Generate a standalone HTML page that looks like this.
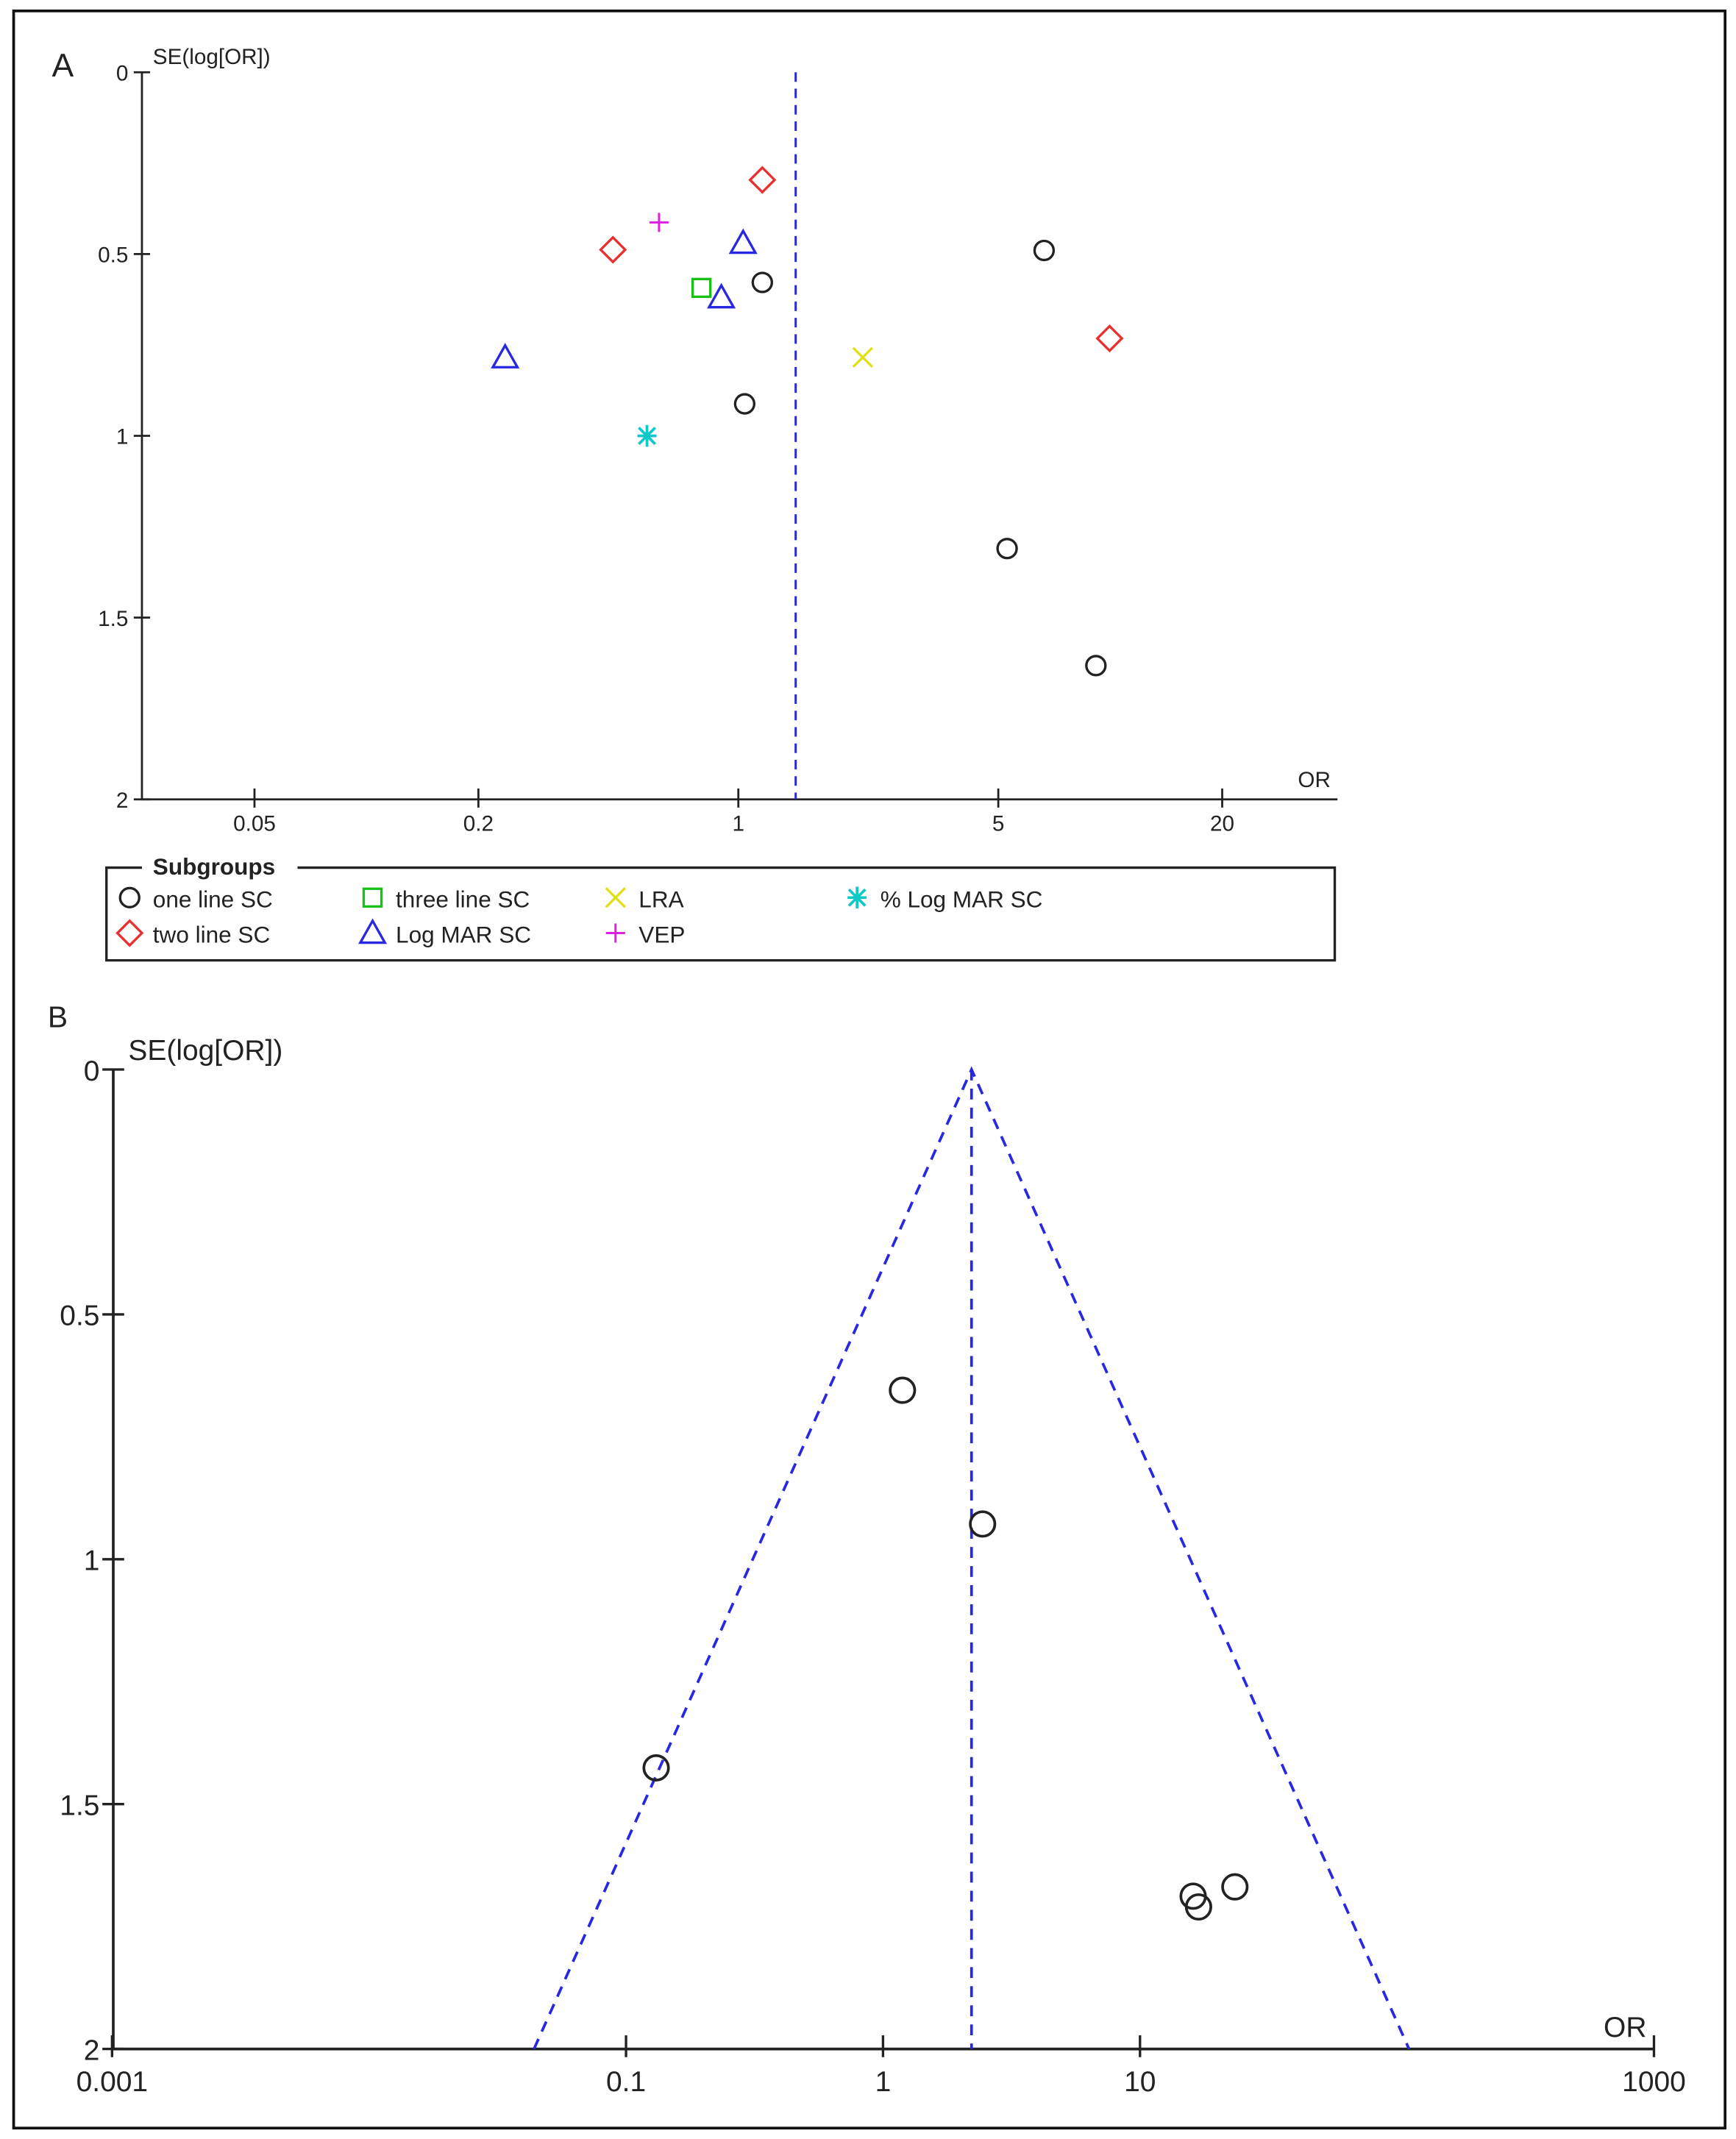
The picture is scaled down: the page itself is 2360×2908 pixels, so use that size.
<!DOCTYPE html>
<html><head><meta charset="utf-8">
<style>
html,body{margin:0;padding:0;background:#fff;}
svg{display:block;}
text{font-family:"Liberation Sans",sans-serif;fill:#222;}
</style></head>
<body>
<svg id="fig" width="2360" height="2908" viewBox="0 0 1272 1568" preserveAspectRatio="none" xmlns="http://www.w3.org/2000/svg">
<rect x="10" y="8" width="1254" height="1552" fill="#fff" stroke="#111" stroke-width="2"/>
<text x="38" y="56" font-size="24">A</text>
<text x="35" y="753" font-size="22">B</text>
<g id="gA"></g>
<g id="gB"></g>
<g id="legend"></g>
</svg>
<script>
// Panel A data (OR, SE) by subgroup
const aOneLineOR = [6.64, 1.16, 1.04, 5.28, 9.15];
const aOneLineSE = [0.49, 0.578, 0.912, 1.31, 1.632];
const aTwoLineOR = [1.16, 0.46, 9.96];
const aTwoLineSE = [0.296, 0.488, 0.732];
const aThreeLineOR = [0.796];
const aThreeLineSE = [0.593];
const aLogMarOR = [1.03, 0.90, 0.236];
const aLogMarSE = [0.47, 0.62, 0.785];
const aLraOR = [2.16];
const aLraSE = [0.784];
const aVepOR = [0.612];
const aVepSE = [0.413];
const aPctLogMarOR = [0.568];
const aPctLogMarSE = [1.0];
const aPooledOR = 1.426;
const aXTicks = [0.05, 0.2, 1, 5, 20];
const aXTickLabels = ["0.05", "0.2", "1", "5", "20"];
const aYTicks = [0, 0.5, 1, 1.5, 2];
const aYTickLabels = ["0", "0.5", "1", "1.5", "2"];
// Panel B data
const bOR = [1.19, 2.44, 0.131, 16.1, 16.9, 23.4];
const bSE = [0.655, 0.928, 1.426, 1.688, 1.71, 1.669];
const bPooledOR = 2.21;
const bXTicks = [0.001, 0.1, 1, 10, 1000];
const bXTickLabels = ["0.001", "0.1", "1", "10", "1000"];
const bYTicks = [0, 0.5, 1, 1.5, 2];
const bYTickLabels = ["0", "0.5", "1", "1.5", "2"];

const NS = "http://www.w3.org/2000/svg";
function mk(tag, attrs, parent){const e=document.createElementNS(NS,tag);for(const k in attrs)e.setAttribute(k,attrs[k]);parent.appendChild(e);return e;}

// axis functions
const axA = {x0:104, x1:980, y0:53, y1:586};
const xA = v => 541 + 272.5*Math.log10(v);
const yA = v => axA.y0 + (axA.y1-axA.y0)*v/2;
const axB = {x0:83, x1:1212, y0:784, y1:1502};
const xB = v => 647 + 188.3*Math.log10(v);
const yB = v => axB.y0 + (axB.y1-axB.y0)*v/2;

function marker(type, cx, cy, parent, name){
  let e;
  const c = {circle:"#222",diamond:"#e83030",square:"#18c018",triangle:"#2828e0",cross:"#e0e018",plus:"#e020e0",star:"#10c8c8"}[type];
  if(type==="circle"){e=mk("circle",{cx:cx,cy:cy,r:7,fill:"none",stroke:c,"stroke-width":1.8},parent);}
  else if(type==="diamond"){e=mk("polygon",{points:`${cx},${cy-9} ${cx+9},${cy} ${cx},${cy+9} ${cx-9},${cy}`,fill:"none",stroke:c,"stroke-width":1.8},parent);}
  else if(type==="square"){e=mk("rect",{x:cx-6.5,y:cy-6.5,width:13,height:13,fill:"none",stroke:c,"stroke-width":1.8},parent);}
  else if(type==="triangle"){e=mk("polygon",{points:`${cx},${cy-9} ${cx+9},${cy+7} ${cx-9},${cy+7}`,fill:"none",stroke:c,"stroke-width":1.8},parent);}
  else if(type==="cross"){e=mk("path",{d:`M${cx-7},${cy-7}L${cx+7},${cy+7}M${cx+7},${cy-7}L${cx-7},${cy+7}`,stroke:c,"stroke-width":1.8,fill:"none"},parent);}
  else if(type==="plus"){e=mk("path",{d:`M${cx-7},${cy}L${cx+7},${cy}M${cx},${cy-7}L${cx},${cy+7}`,stroke:c,"stroke-width":1.6,fill:"none"},parent);}
  else {e=mk("path",{d:`M${cx-7},${cy}L${cx+7},${cy}M${cx},${cy-8}L${cx},${cy+8}M${cx-6},${cy-6}L${cx+6},${cy+6}M${cx+6},${cy-6}L${cx-6},${cy+6}`,stroke:c,"stroke-width":2,fill:"none"},parent);}
  
  
  return e;
}

// ----- Panel A -----
const gA = document.getElementById("gA");
let l = mk("path",{d:`M${axA.x0},${axA.y0}L${axA.x0},${axA.y1}L${axA.x1},${axA.y1}`,stroke:"#222","stroke-width":1.5,fill:"none"},gA);


aYTicks.forEach((v,i)=>{
  const t=mk("line",{x1:axA.x0-6,x2:axA.x0+6,y1:yA(v),y2:yA(v),stroke:"#222","stroke-width":1.5},gA);
  
  
  const tx=mk("text",{x:axA.x0-10,y:yA(v)+6,"font-size":16,"text-anchor":"end"},gA);
  tx.textContent=aYTickLabels[i];
  
  
});
aXTicks.forEach((v,i)=>{
  const t=mk("line",{x1:xA(v),x2:xA(v),y1:axA.y1-8,y2:axA.y1+6,stroke:"#222","stroke-width":1.5},gA);
  
  
  const tx=mk("text",{x:xA(v),y:axA.y1+23,"font-size":16,"text-anchor":"middle"},gA);
  tx.textContent=aXTickLabels[i];
  
  
});
let t1=mk("text",{x:112,y:47,"font-size":16},gA); t1.textContent="SE(log[OR])";


let t2=mk("text",{x:951,y:577,"font-size":16},gA); t2.textContent="OR";


let pl=mk("line",{x1:xA(aPooledOR),x2:xA(aPooledOR),y1:axA.y0,y2:axA.y1,stroke:"#2828e0","stroke-width":1.6,"stroke-dasharray":"7,5"},gA);


const seriesA=[[aOneLineOR,aOneLineSE,"circle","one-line-sc-point"],[aTwoLineOR,aTwoLineSE,"diamond","two-line-sc-point"],[aThreeLineOR,aThreeLineSE,"square","three-line-sc-point"],[aLogMarOR,aLogMarSE,"triangle","log-mar-sc-point"],[aLraOR,aLraSE,"cross","lra-point"],[aVepOR,aVepSE,"plus","vep-point"],[aPctLogMarOR,aPctLogMarSE,"star","pct-log-mar-sc-point"]];
seriesA.forEach(s=>s[0].forEach((o,i)=>marker(s[2],xA(o),yA(s[1][i]),gA,s[3])));

// ----- Legend -----
const lg=document.getElementById("legend");
let lb=mk("path",{d:"M104,636L78,636L78,704L978,704L978,636L218,636",stroke:"#222","stroke-width":1.8,fill:"none"},lg);


let lt=mk("text",{x:112,y:641,"font-size":17,"font-weight":"bold"},lg); lt.textContent="Subgroups";


const legItems=[["circle",95,658,"one line SC"],["square",273,658,"three line SC"],["cross",451,658,"LRA"],["star",628,658,"% Log MAR SC"],["diamond",95,684,"two line SC"],["triangle",273,684,"Log MAR SC"],["plus",451,684,"VEP"]];
legItems.forEach(it=>{
  const m=marker(it[0],it[1],it[2],lg,'legend-marker');
  const tx=mk("text",{x:it[1]+17,y:it[2]+7,"font-size":17},lg);
  tx.textContent=it[3];
  
  
});

// ----- Panel B -----
const gB=document.getElementById("gB");
let lB=mk("path",{d:`M${axB.x0},${axB.y0}L${axB.x0},${axB.y1}L${axB.x1},${axB.y1}`,stroke:"#222","stroke-width":2,fill:"none"},gB);


bYTicks.forEach((v,i)=>{
  const t=mk("line",{x1:axB.x0-8,x2:axB.x0+8,y1:yB(v),y2:yB(v),stroke:"#222","stroke-width":1.8},gB);
  
  
  const tx=mk("text",{x:axB.x0-10,y:yB(v)+8,"font-size":21,"text-anchor":"end"},gB);
  tx.textContent=bYTickLabels[i];
  
  
});
bXTicks.forEach((v,i)=>{
  const t=mk("line",{x1:xB(v),x2:xB(v),y1:axB.y1-10,y2:axB.y1+6,stroke:"#222","stroke-width":1.8},gB);
  
  
  const tx=mk("text",{x:xB(v),y:axB.y1+31,"font-size":21,"text-anchor":"middle"},gB);
  tx.textContent=bXTickLabels[i];
  
  
});
let t3=mk("text",{x:94,y:777,"font-size":21},gB); t3.textContent="SE(log[OR])";


let t4=mk("text",{x:1175,y:1493,"font-size":21},gB); t4.textContent="OR";


const cB=Math.log10(bPooledOR), hw=1.96*2/Math.LN10;
let fl=mk("path",{d:`M${xB(Math.pow(10,cB-hw))},${yB(2)}L${xB(bPooledOR)},${yB(0)}L${xB(Math.pow(10,cB+hw))},${yB(2)}`,stroke:"#2828e0","stroke-width":2,fill:"none","stroke-dasharray":"8,6"},gB);


let pB=mk("line",{x1:xB(bPooledOR),x2:xB(bPooledOR),y1:yB(0),y2:yB(2),stroke:"#2828e0","stroke-width":2,"stroke-dasharray":"8,6"},gB);


bOR.forEach((o,i)=>{
  const c=mk("circle",{cx:xB(o),cy:yB(bSE[i]),r:9,fill:"none",stroke:"#222","stroke-width":2},gB);
  
  
});
</script>
</body></html>
